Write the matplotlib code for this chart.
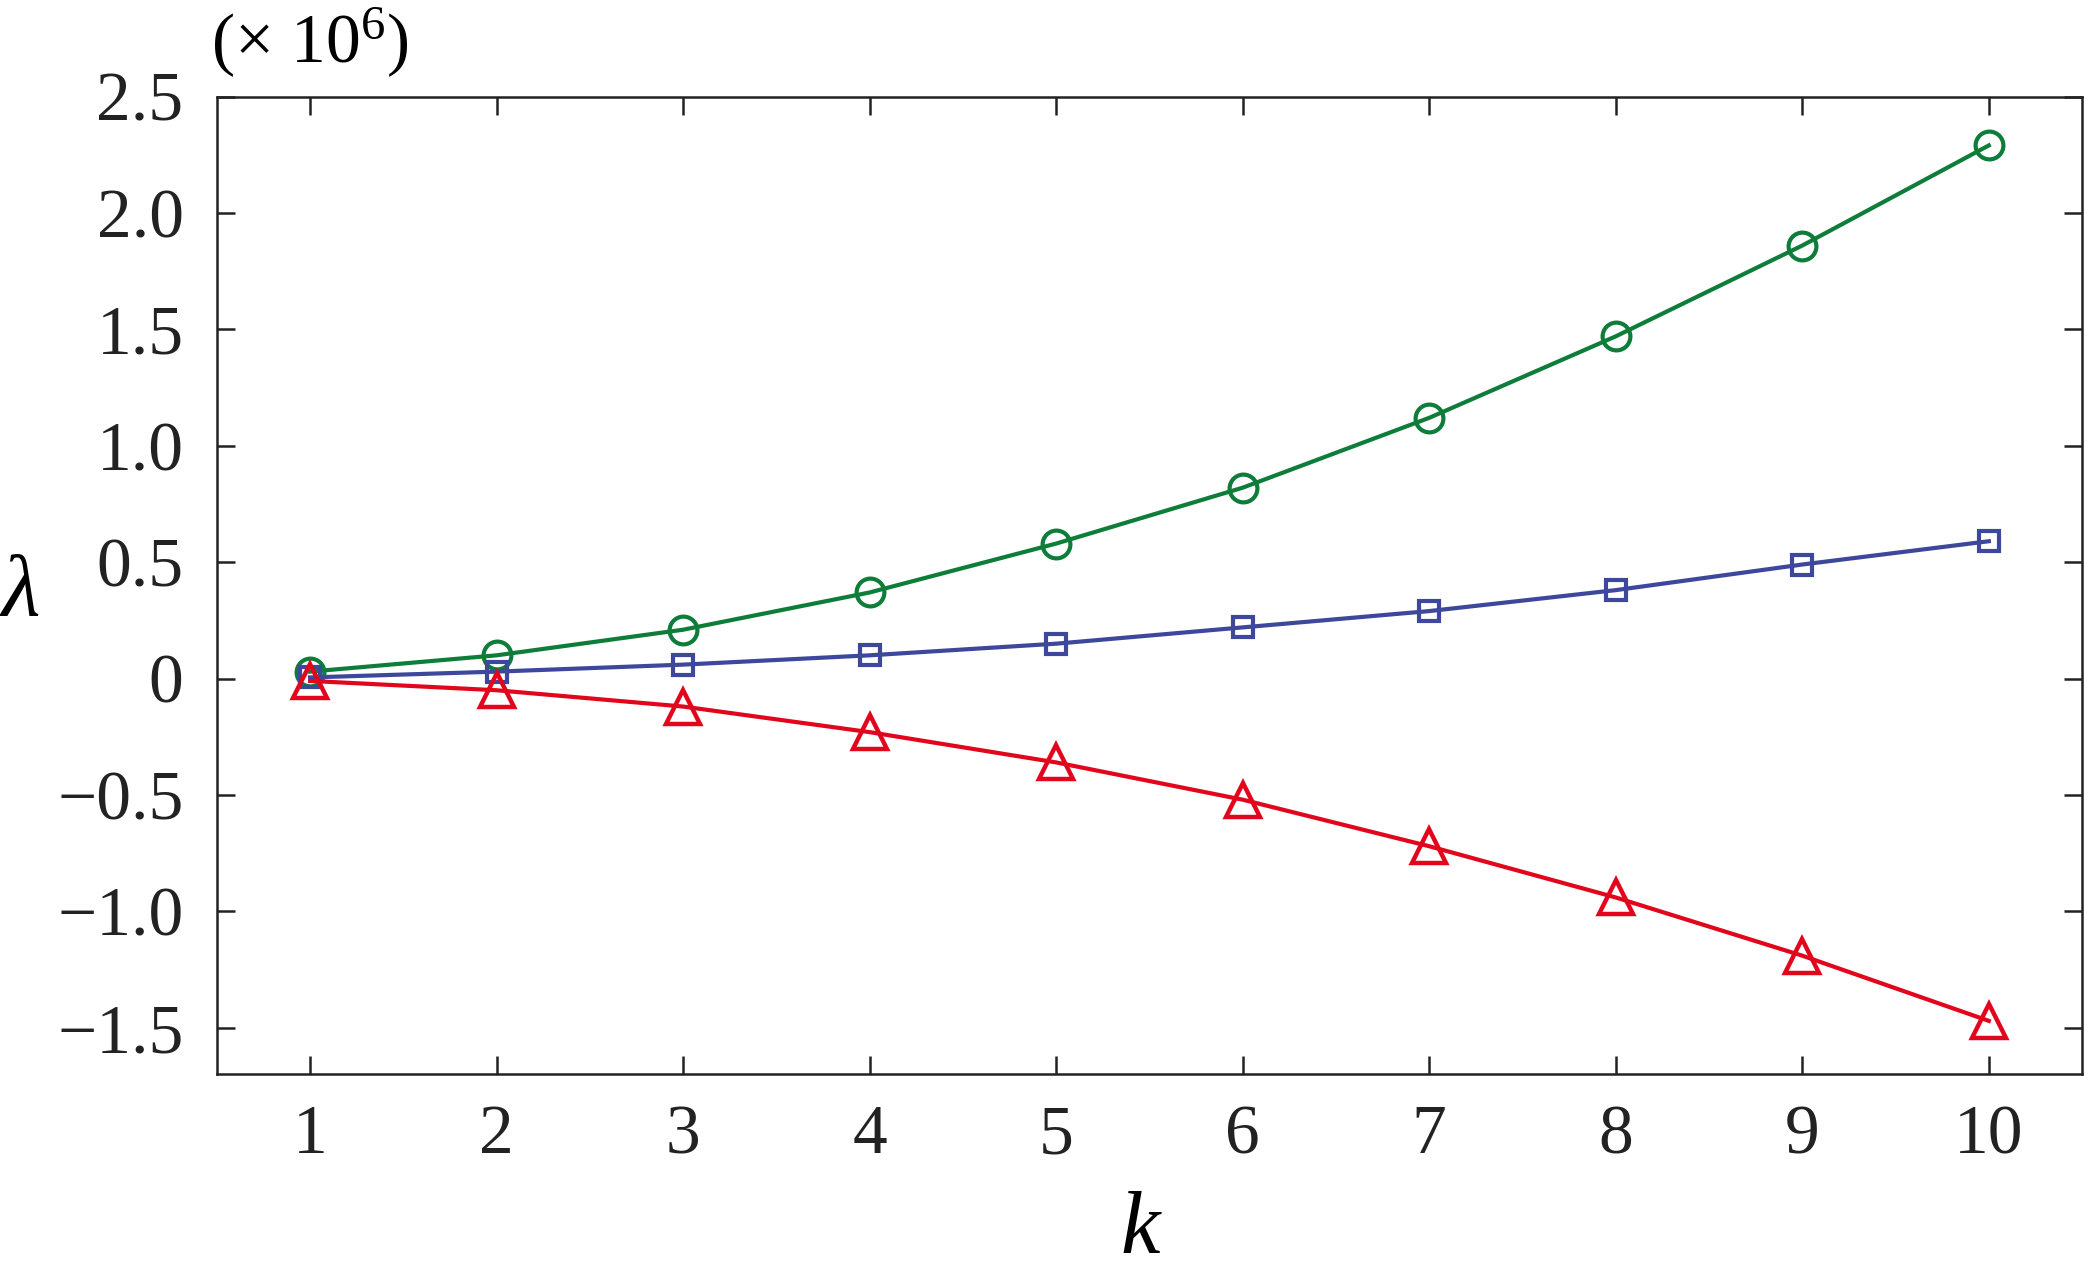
import matplotlib
matplotlib.use('Agg')
import matplotlib.pyplot as plt

# k values and eigenvalues (in units of 1e6)
k = [1, 2, 3, 4, 5, 6, 7, 8, 9, 10]
lam_circle = [0.03, 0.10, 0.21, 0.37, 0.58, 0.82, 1.12, 1.47, 1.86, 2.29]
lam_square = [0.005, 0.03, 0.06, 0.10, 0.15, 0.22, 0.29, 0.38, 0.49, 0.59]
lam_triangle = [-0.01, -0.05, -0.12, -0.23, -0.36, -0.52, -0.72, -0.94, -1.19, -1.47]

yticks = [-1.5, -1.0, -0.5, 0, 0.5, 1.0, 1.5, 2.0, 2.5]
ytick_labels = ['\u22121.5', '\u22121.0', '\u22120.5', '0', '0.5', '1.0', '1.5', '2.0', '2.5']

plt.rcParams['font.family'] = ['Liberation Serif', 'DejaVu Serif']
plt.rcParams['mathtext.fontset'] = 'custom'
plt.rcParams['mathtext.rm'] = 'Liberation Serif'
plt.rcParams['mathtext.it'] = 'Liberation Serif:italic'

green = '#0e7d3a'
blue = '#3d479c'
red = '#e2061c'

fig = plt.figure(figsize=(20.85, 12.70), dpi=100)
ax = fig.add_axes([0.104, 0.154, 0.8946, 0.770])

ax.plot(k, lam_circle, color=green, lw=3.0, marker='o', ms=20, mfc='none',
        mec=green, mew=3.0)
ax.plot(k, lam_square, color=blue, lw=3.0, marker='s', ms=15, mfc='none',
        mec=blue, mew=3.0)
ax.plot(k, lam_triangle, color=red, lw=3.0, marker='^', ms=24, mfc='none',
        mec=red, mew=3.2)

ax.set_xlim(0.5, 10.5)
ax.set_ylim(-1.7, 2.5)
ax.set_xticks(k)
ax.set_yticks(yticks)
ax.set_yticklabels(ytick_labels)

for s in ax.spines.values():
    s.set_linewidth(1.8)
    s.set_color('#222222')
ax.tick_params(direction='in', length=13, width=1.8, top=True, right=True,
               labelsize=50, colors='#222222', pad=24)
ax.tick_params(axis='x', pad=22)

fig.text(0.547, 0.013, 'k', fontsize=64, style='italic', ha='center', va='baseline')
fig.text(0.010, 0.533, '\u03bb', fontsize=64, style='italic', ha='center', va='center')
fig.text(0.101, 0.950, '(\u00d7 10$^{6}$)', fontsize=50, ha='left', va='baseline')

fig.savefig('out.png', dpi=100)
